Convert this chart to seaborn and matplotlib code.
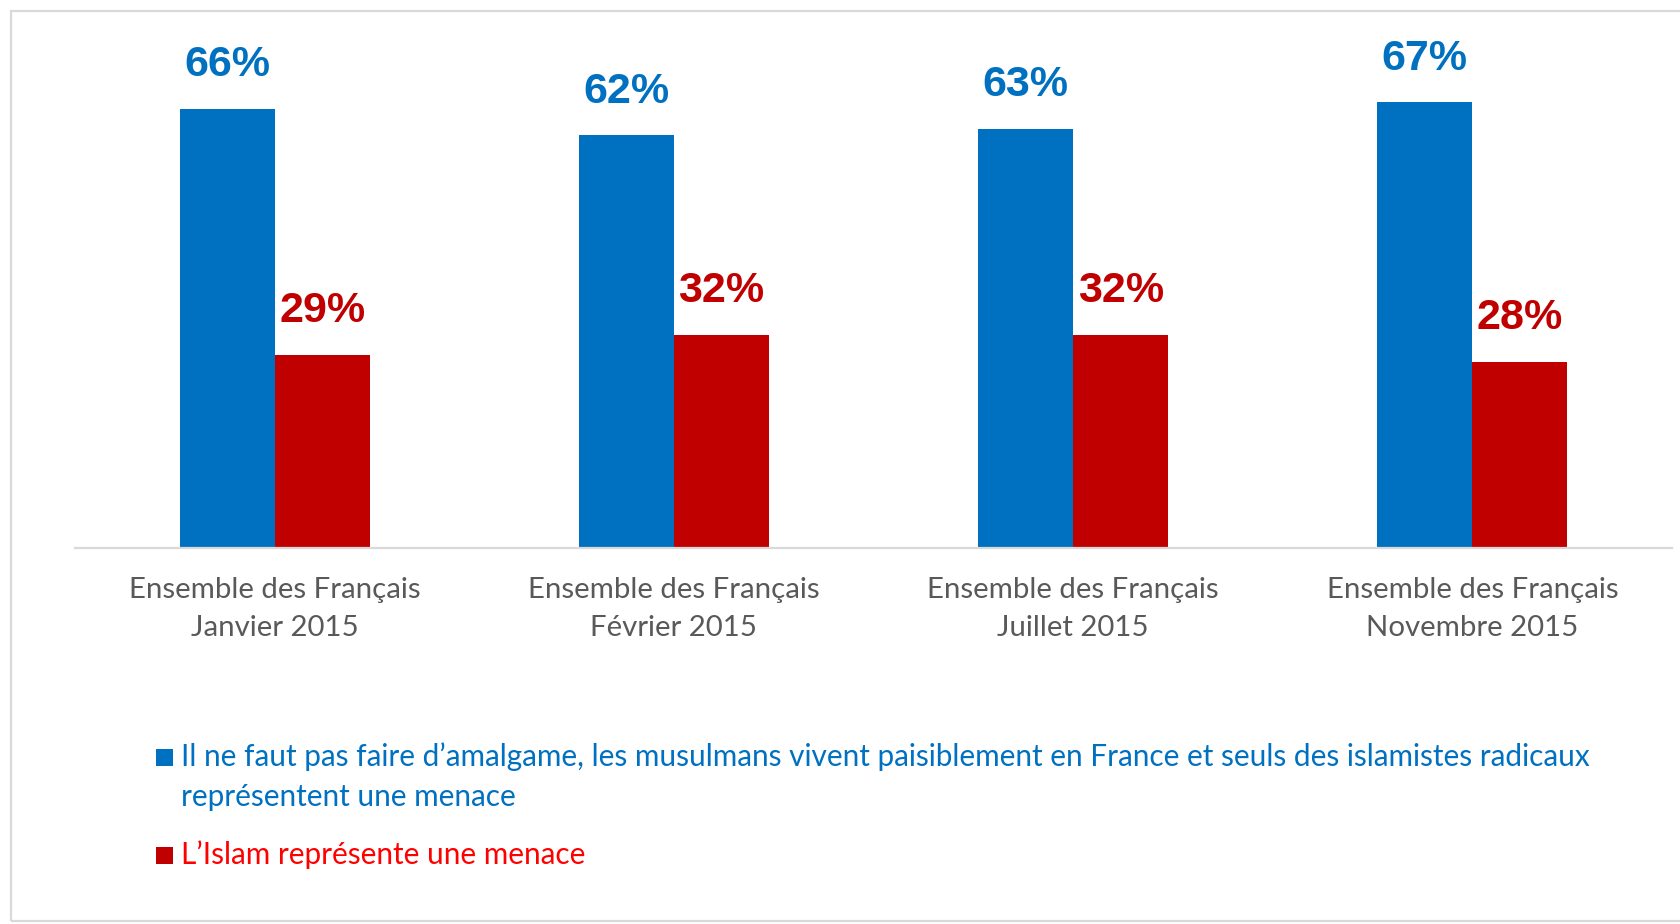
import matplotlib
matplotlib.use("Agg")
import matplotlib.pyplot as plt
import matplotlib.patches as mpatches
import seaborn as sns
import pandas as pd

# ---- data ----
periods = ["Janvier 2015", "Février 2015", "Juillet 2015", "Novembre 2015"]
group_label = "Ensemble des Français"
series_names = [
    "Il ne faut pas faire d’amalgame, les musulmans vivent paisiblement en France et seuls des islamistes radicaux\nreprésentent une menace",
    "L’Islam représente une menace",
]
amalgame_values = [66, 62, 63, 67]
menace_values = [29, 32, 32, 28]

bar_colors = ["#0070C0", "#C00000"]
legend_text_colors = ["#0070C0", "#FF0000"]

categories = [f"{group_label}\n{p}" for p in periods]
df = pd.DataFrame({
    "categorie": categories * 2,
    "serie": [series_names[0]] * 4 + [series_names[1]] * 4,
    "valeur": amalgame_values + menace_values,
})

sns.set_theme(style="white")
plt.rcParams["font.family"] = ["Lato", "DejaVu Sans"]

W, H = 1681, 924
fig = plt.figure(figsize=(W / 100, H / 100), dpi=100)
fig.patch.set_facecolor("white")

def fx(px):
    return px / W

def fy(py):
    return 1 - py / H

ax_left, ax_right = 75, 1672
ax_bottom, ax_top = 548, 49
ax = fig.add_axes([fx(ax_left), fy(ax_bottom), fx(ax_right - ax_left), (ax_bottom - ax_top) / H])

sns.barplot(data=df, x="categorie", y="valeur", hue="serie", order=categories,
            hue_order=series_names, palette=dict(zip(series_names, bar_colors)),
            width=0.476, saturation=1, ax=ax, legend=False, linewidth=0)

ax.set_ylim(0, 75)
ax.set_xlim(-0.5, len(categories) - 0.5)
ax.set_xlabel("")
ax.set_ylabel("")
ax.set_yticks([])
for s in ["top", "right", "left"]:
    ax.spines[s].set_visible(False)
ax.spines["bottom"].set_color("#D9D9D9")
ax.spines["bottom"].set_linewidth(1.6)
ax.tick_params(axis="x", length=0, pad=21, labelsize=21.2, labelcolor="#595959")
for lbl in ax.get_xticklabels():
    lbl.set_linespacing(1.58)

for container, color in zip(ax.containers, bar_colors):
    for bar in container:
        h = bar.get_height()
        ax.annotate(f"{h:.0f}%", (bar.get_x() + bar.get_width() / 2, h),
                    xytext=(0, 23.5), textcoords="offset points",
                    ha="center", va="baseline", fontsize=31, fontweight="bold",
                    color=color, family=["Liberation Sans", "DejaVu Sans"])

# ---- legend (manual, left-aligned like the reference) ----
sq = 17
legend_fs = 21.4
legend_rows = [(757, 0), (855, 1)]
for cy, i in legend_rows:
    fig.patches.append(mpatches.Rectangle((fx(156), fy(cy + sq / 2)), fx(sq), sq / H,
                                          transform=fig.transFigure, facecolor=bar_colors[i],
                                          edgecolor="none"))
    fig.text(fx(181), fy(cy), series_names[i].split("\n")[0], color=legend_text_colors[i],
             fontsize=legend_fs, ha="left", va="center")
fig.text(fx(181), fy(797), series_names[0].split("\n")[1], color=legend_text_colors[0],
         fontsize=legend_fs, ha="left", va="center")

# ---- outer frame ----
fig.patches.append(mpatches.Rectangle((fx(11), fy(921)), 1.2, (921 - 11) / H,
                                      transform=fig.transFigure, facecolor="none",
                                      edgecolor="#D9D9D9", linewidth=1.6))

fig.savefig("out.png", dpi=100, facecolor="white")
